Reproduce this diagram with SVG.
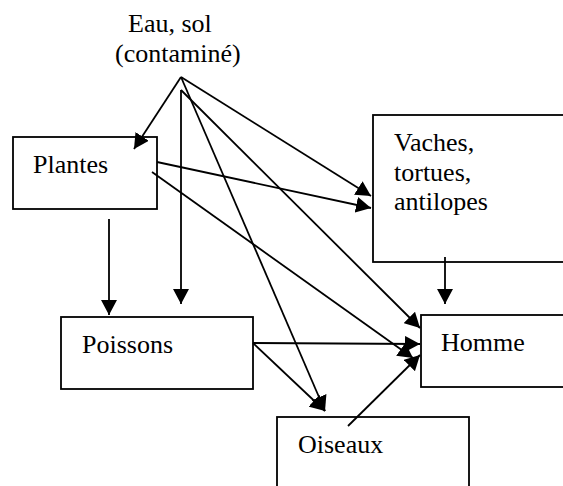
<svg xmlns="http://www.w3.org/2000/svg" width="563" height="486" viewBox="0 0 563 486">
<style>
.box{fill:#fff;stroke:#000;stroke-width:1.8}
.t{font-family:"Liberation Serif","Times New Roman","DejaVu Serif",serif;font-size:26px;fill:#000}
.c{stroke:#000;stroke-width:1.8;fill:none}
.a{marker-end:url(#ah)}
</style>
<defs>
<marker id="ah" markerUnits="userSpaceOnUse" markerWidth="16" markerHeight="16" refX="15" refY="8" orient="auto" viewBox="0 0 16 16">
<path d="M0,0 L15,8 L0,16 z" fill="#000"/>
</marker>
</defs>
<rect width="563" height="486" fill="#fff"/>
<g id="source">
<text class="t" x="128" y="32">Eau, sol</text>
<text class="t" x="115" y="62">(contaminé)</text>
</g>
<g id="plantes">
<rect class="box" x="13" y="137" width="144" height="72"/>
<text class="t" x="33" y="173">Plantes</text>
</g>
<g id="vaches">
<rect class="box" x="373" y="115" width="210" height="147"/>
<text class="t" x="394" y="151">Vaches,</text>
<text class="t" x="394" y="181">tortues,</text>
<text class="t" x="394" y="210">antilopes</text>
</g>
<g id="poissons">
<rect class="box" x="61" y="317" width="192" height="72"/>
<text class="t" x="82" y="353">Poissons</text>
</g>
<g id="homme">
<rect class="box" x="421" y="315" width="162" height="72"/>
<text class="t" x="441" y="351">Homme</text>
</g>
<g id="oiseaux">
<rect class="box" x="277" y="417" width="192" height="100"/>
<text class="t" x="298" y="453">Oiseaux</text>
</g>
<g id="connectors">
<line class="c a" x1="181" y1="77" x2="134" y2="149"/>
<line class="c a" x1="181" y1="77" x2="371" y2="196"/>
<line class="c a" x1="181" y1="77" x2="325" y2="411"/>
<line class="c a" x1="181" y1="90" x2="181" y2="304"/>
<line class="c a" x1="181" y1="90" x2="420" y2="328"/>
<line class="c a" x1="157" y1="162" x2="371" y2="208"/>
<line class="c a" x1="152" y1="172" x2="413" y2="358"/>
<line class="c a" x1="109" y1="219" x2="109" y2="315"/>
<line class="c a" x1="445" y1="257" x2="445" y2="304"/>
<line class="c a" x1="253" y1="343" x2="420" y2="344"/>
<line class="c a" x1="253" y1="343" x2="325" y2="411"/>
<line class="c a" x1="348" y1="426" x2="420" y2="355"/>
</g>
</svg>
